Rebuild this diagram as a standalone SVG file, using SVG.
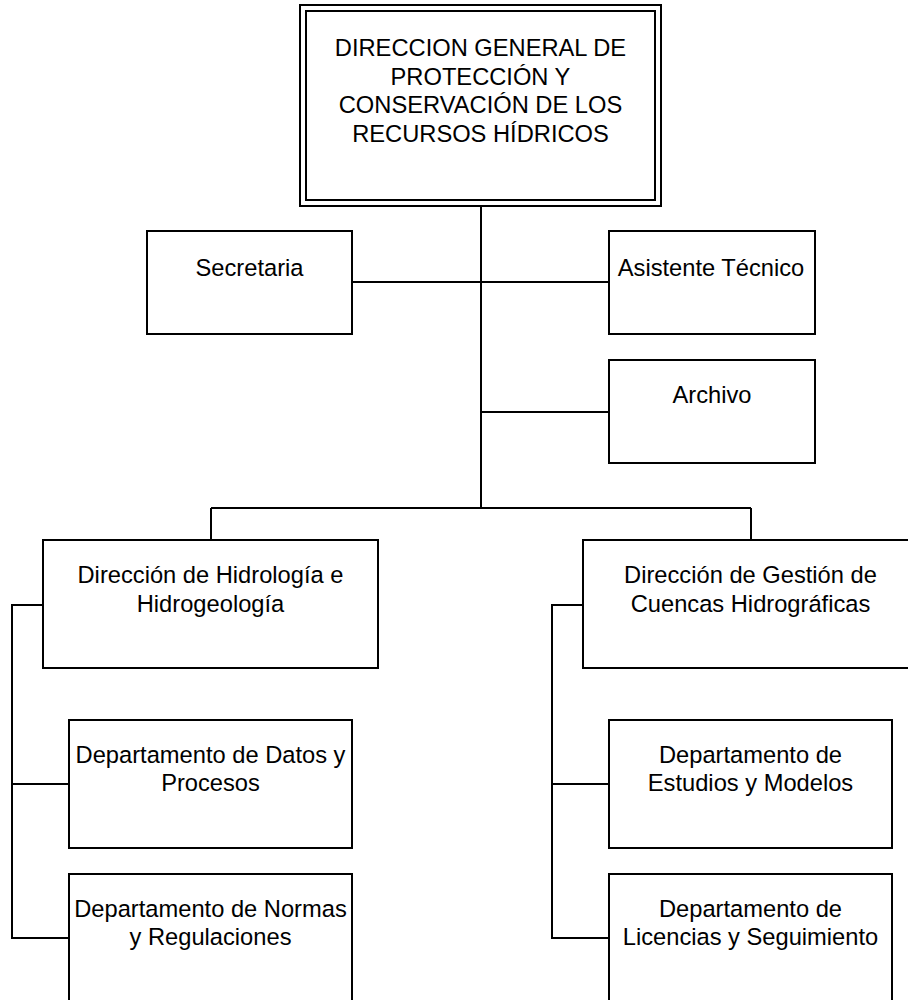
<svg xmlns="http://www.w3.org/2000/svg" width="908" height="1000" viewBox="0 0 908 1000">
<style>
.box{fill:#fff;stroke:#000;stroke-width:2}
.ln{fill:none;stroke:#000;stroke-width:2}
text{font-family:"Liberation Sans",Arial,sans-serif;font-size:23.7px;fill:#000;text-anchor:middle}
</style>
<rect width="908" height="1000" fill="#fff"/>
<g id="connectors">
<path class="ln" d="M481 206V508"/>
<path class="ln" d="M352 282H609"/>
<path class="ln" d="M481 412H609"/>
<path class="ln" d="M211 508H751M211 508V540M751 508V540"/>
<path class="ln" d="M43 605H12V938H69M12 784H69"/>
<path class="ln" d="M583 605H552V938H609M552 784H609"/>
</g>
<g id="n-direccion-general">
<rect class="box" x="300" y="5" width="361" height="201"/>
<rect class="box" x="306" y="11" width="349" height="189"/>
<text x="480.5" y="56">DIRECCION GENERAL DE</text>
<text x="480.5" y="85">PROTECCIÓN Y</text>
<text x="480.5" y="113">CONSERVACIÓN DE LOS</text>
<text x="480.5" y="142">RECURSOS HÍDRICOS</text>
</g>
<g id="n-secretaria">
<rect class="box" x="147" y="231" width="205" height="103"/>
<text x="249.5" y="276">Secretaria</text>
</g>
<g id="n-asistente">
<rect class="box" x="609" y="231" width="206" height="103"/>
<text x="711" y="276">Asistente Técnico</text>
</g>
<g id="n-archivo">
<rect class="box" x="609" y="360" width="206" height="103"/>
<text x="712" y="403">Archivo</text>
</g>
<g id="n-hidrologia">
<rect class="box" x="43" y="540" width="335" height="128"/>
<text x="210.5" y="583">Dirección de Hidrología e</text>
<text x="210.5" y="612">Hidrogeología</text>
</g>
<g id="n-cuencas">
<rect class="box" x="583" y="540" width="335" height="128"/>
<text x="750.5" y="583">Dirección de Gestión de</text>
<text x="750.5" y="612">Cuencas Hidrográficas</text>
</g>
<g id="n-datos">
<rect class="box" x="69" y="720" width="283" height="128"/>
<text x="210.5" y="763">Departamento de Datos y</text>
<text x="210.5" y="791">Procesos</text>
</g>
<g id="n-normas">
<rect class="box" x="69" y="874" width="283" height="128"/>
<text x="210.5" y="917">Departamento de Normas</text>
<text x="210.5" y="945">y Regulaciones</text>
</g>
<g id="n-estudios">
<rect class="box" x="609" y="720" width="283" height="128"/>
<text x="750.5" y="763">Departamento de</text>
<text x="750.5" y="791">Estudios y Modelos</text>
</g>
<g id="n-licencias">
<rect class="box" x="609" y="874" width="283" height="128"/>
<text x="750.5" y="917">Departamento de</text>
<text x="750.5" y="945">Licencias y Seguimiento</text>
</g>
</svg>
